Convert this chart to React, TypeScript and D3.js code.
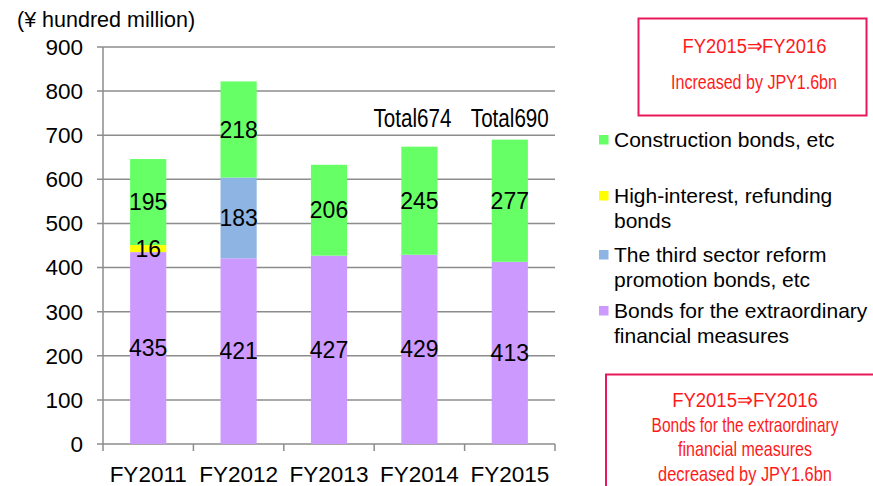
import React, { useLayoutEffect, useRef, useState } from "react";
import * as d3 from "d3";

const categories = ["FY2011", "FY2012", "FY2013", "FY2014", "FY2015"];
const extraordinary = [435, 421, 427, 429, 413];
const thirdSector = [0, 183, 0, 0, 0];
const highInterest = [16, 0, 0, 0, 0];
const construction = [195, 218, 206, 245, 277];
const totalLabels = ["", "", "", "Total674", "Total690"];
const yTicks = [0, 100, 200, 300, 400, 500, 600, 700, 800, 900];

const seriesKeys = ["extraordinary", "thirdSector", "highInterest", "construction"];
const seriesColors: Record<string, string> = {
  extraordinary: "#CC99FF",
  thirdSector: "#8DB4E2",
  highInterest: "#FFFF00",
  construction: "#66FF66",
};
const legendItems = [
  { key: "construction", lines: ["Construction bonds, etc"] },
  { key: "highInterest", lines: ["High-interest, refunding", "bonds"] },
  { key: "thirdSector", lines: ["The third sector reform", "promotion bonds, etc"] },
  { key: "extraordinary", lines: ["Bonds for the extraordinary", "financial measures"] },
];
const topBoxLines = ["FY2015⇒FY2016", "Increased by JPY1.6bn"];
const bottomBoxLines = ["FY2015⇒FY2016", "Bonds for the extraordinary", "financial measures", "decreased by JPY1.6bn"];

const W = 873;
const H = 486;
const left = 103;
const right = 555;
const top = 47;
const bottom = 444;
const FONT = "'Liberation Sans', Arial, sans-serif";
const RED = "#FF1A1A";
const BOX = "#E8185A";

function Condensed(props: { cx: number; y: number; target: number; fontSize: number; fill: string; children: string }) {
  const ref = useRef<SVGTextElement>(null);
  const [s, setS] = useState(1);
  useLayoutEffect(() => {
    if (ref.current) {
      const w = ref.current.getComputedTextLength();
      if (w > 0) setS(props.target / w);
    }
  }, [props.target, props.children, props.fontSize]);
  return (
    <text
      ref={ref}
      transform={`translate(${props.cx},${props.y}) scale(${s},1)`}
      textAnchor="middle"
      fontSize={props.fontSize}
      fill={props.fill}
    >
      {props.children}
    </text>
  );
}

export default function App() {
  const rows = categories.map((c, i) => ({
    cat: c,
    extraordinary: extraordinary[i],
    thirdSector: thirdSector[i],
    highInterest: highInterest[i],
    construction: construction[i],
  }));
  const stack = d3.stack<any>().keys(seriesKeys)(rows);
  const x = d3.scaleBand().domain(categories).range([left, right]).paddingInner(0.6).paddingOuter(0.3);
  const xb = d3.scaleBand().domain(categories).range([left, right]);
  const y = d3.scaleLinear().domain([0, 900]).range([bottom, top]);

  const topLens = [145, 166];
  const topCx = [754.5, 754];
  const botLens = [146, 187, 134, 174];

  return (
    <svg width={W} height={H} style={{ position: "absolute", left: 0, top: 0, background: "#fff" }} fontFamily={FONT}>
      <rect width={W} height={H} fill="#fff" />
      {yTicks.map((t) => (
        <g key={t}>
          <line x1={left - 6} x2={right} y1={y(t)} y2={y(t)} stroke="#8c8c8c" strokeWidth={1.5} />
          <text x={83} y={y(t)} dy="0.35em" textAnchor="end" fontSize={22.5} fill="#000">
            {t}
          </text>
        </g>
      ))}
      <line x1={left} x2={left} y1={top} y2={bottom + 7} stroke="#8c8c8c" strokeWidth={1.5} />
      {categories.map((c) => (
        <line key={c} x1={xb(c)! + xb.bandwidth()} x2={xb(c)! + xb.bandwidth()} y1={bottom} y2={bottom + 7} stroke="#8c8c8c" strokeWidth={1.5} />
      ))}
      {categories.map((c) => (
        <text key={c} x={xb(c)! + xb.bandwidth() / 2} y={482} textAnchor="middle" fontSize={22.5} fill="#000">
          {c}
        </text>
      ))}
      {stack.map((s) => (
        <g key={s.key} fill={seriesColors[s.key]}>
          {s.map((d, i) =>
            d[1] - d[0] > 0 ? (
              <rect key={i} x={x(categories[i])} width={x.bandwidth()} y={y(d[1])} height={y(d[0]) - y(d[1])} />
            ) : null
          )}
        </g>
      ))}
      {stack.map((s) =>
        s.map((d, i) =>
          d[1] - d[0] > 0 ? (
            <text
              key={s.key + i}
              x={x(categories[i])! + x.bandwidth() / 2}
              y={y((d[0] + d[1]) / 2)}
              dy="0.35em"
              textAnchor="middle"
              fontSize={23}
              fill="#000"
            >
              {d[1] - d[0]}
            </text>
          ) : null
        )
      )}
      {totalLabels.map((t, i) =>
        t ? (
          <Condensed
            key={i}
            cx={x(categories[i])! + x.bandwidth() / 2 + (i === 3 ? -7 : 0)}
            y={127}
            fontSize={25}
            target={78}
            fill="#000"
          >
            {t}
          </Condensed>
        ) : null
      )}
      <text x={17} y={27} fontSize={21.5} fill="#000">
        (¥ hundred million)
      </text>
      {legendItems.map((it, k) => {
        const base = [147, 203, 262, 318][k];
        return (
          <g key={it.key}>
            <rect x={599} y={base - 12} width={9.5} height={9.5} fill={seriesColors[it.key]} />
            {it.lines.map((l, j) => (
              <text key={j} x={614} y={base + j * 24.5} fontSize={21} fill="#000">
                {l}
              </text>
            ))}
          </g>
        );
      })}
      <rect x={638.5} y={18.5} width={228} height={97} fill="none" stroke={BOX} strokeWidth={2} />
      {topBoxLines.map((l, j) => (
        <Condensed key={j} cx={topCx[j]} y={[53, 89][j]} fontSize={20.5} target={topLens[j]} fill={RED}>
          {l}
        </Condensed>
      ))}
      <rect x={606} y={374.5} width={280} height={130} fill="none" stroke={BOX} strokeWidth={2} />
      {bottomBoxLines.map((l, j) => (
        <Condensed key={j} cx={745} y={407 + j * 24.7} fontSize={20.5} target={botLens[j]} fill={RED}>
          {l}
        </Condensed>
      ))}
    </svg>
  );
}
